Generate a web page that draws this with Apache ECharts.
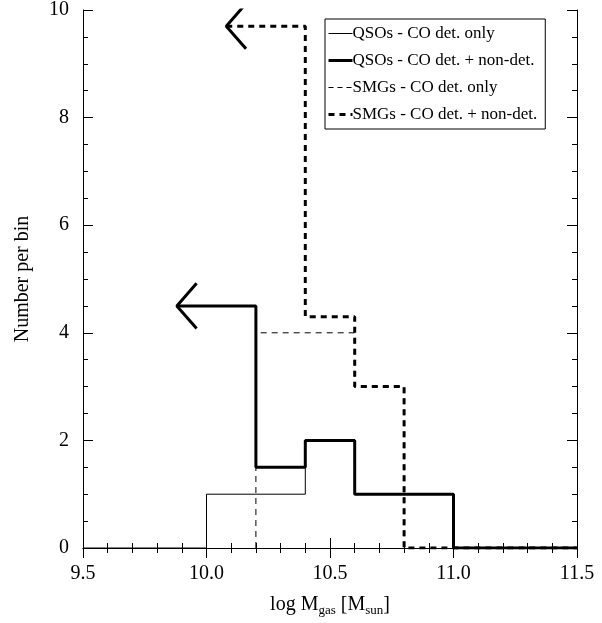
<!DOCTYPE html>
<html>
<head>
<meta charset="utf-8">
<script src="https://cdn.jsdelivr.net/npm/echarts@6/dist/echarts.min.js"></script>
<style>html,body{margin:0;background:#fff}#main{width:602px;height:623px}</style>
</head>
<body>
<div id="main"></div>
<script>
// bin edges and values of each histogram
let qsoDetEdges = [9.5, 10.0, 10.4, 10.6, 11.0, 11.5]
let qsoDetVals = [0, 1, 2, 1, 0]
let qsoAllEdges = [9.88, 10.2, 10.4, 10.6, 11.0, 11.5]
let qsoAllVals = [4.5, 1.5, 2, 1, 0]
let smgDetEdges = [10.2, 10.2, 10.6, 10.8, 10.8]
let smgDetVals = [0, 4, 3, 0]
let smgAllEdges = [10.08, 10.4, 10.6, 10.8, 11.5]
let smgAllVals = [9.7, 4.3, 3, 0]
// open arrow heads (upper-limit markers)
let qsoArrow = [[9.96, 4.92], [9.88, 4.5], [9.96, 4.08]]
let smgArrow = [[10.16, 10.12], [10.08, 9.7], [10.16, 9.28]]
let names = ['QSOs - CO det. only', 'QSOs - CO det. + non-det.', 'SMGs - CO det. only', 'SMGs - CO det. + non-det.']

function steps (edges, vals) {
    let out = []
    for (let i = 0; i < vals.length; i++) out.push([edges[i], vals[i]])
    out.push([edges[edges.length - 1], vals[vals.length - 1]])
    return out
}

let font = '"Liberation Serif", "DejaVu Serif", serif'
let myChart = echarts.init(document.getElementById('main'))
let axBase = {
    axisLine: {show: true, lineStyle: {color: '#000'}},
    splitLine: {show: false}, axisTick: {inside: true, length: 10, lineStyle: {color: '#000'}}
}
function line (name, data, width, dash) {
    return {
        name: name, type: 'line', step: 'end', data: data, symbol: 'none',
        lineStyle: {color: '#000', width: width, type: dash ? [6, 5] : 'solid'},
        itemStyle: {color: '#000'}
    }
}
let xMinor = {show: true, splitNumber: 5, length: 5, lineStyle: {color: '#000'}}
let yMinor = {show: true, splitNumber: 4, length: 5, lineStyle: {color: '#000'}}
myChart.setOption({
    animation: false,
    grid: {left: 83, right: 25, top: 10, bottom: 75},
    xAxis: [
        Object.assign({}, axBase, {type: 'value', min: 9.5, max: 11.5, interval: 0.5, minorTick: xMinor,
            axisLabel: {fontFamily: font, fontSize: 20, color: '#000', margin: 16,
                formatter: v => v.toFixed(1)},
            name: '{a|log M}{s|gas}{a| [M}{s|sun}{a|]}', nameLocation: 'middle', nameGap: 44,
            nameTextStyle: {rich: {
                a: {fontFamily: font, fontSize: 20, color: '#000'},
                s: {fontFamily: font, fontSize: 13, color: '#000', padding: [12, 0, 0, 0]}
            }}}),
        Object.assign({}, axBase, {type: 'value', position: 'top', min: 9.5, max: 11.5, interval: 0.5,
            minorTick: xMinor, axisLabel: {show: false}})
    ],
    yAxis: [
        Object.assign({}, axBase, {type: 'value', min: 0, max: 10, interval: 2, minorTick: yMinor,
            axisLabel: {fontFamily: font, fontSize: 20, color: '#000', margin: 14},
            name: 'Number per bin', nameLocation: 'middle', nameGap: 50,
            nameTextStyle: {fontFamily: font, fontSize: 20, color: '#000'}}),
        Object.assign({}, axBase, {type: 'value', position: 'right', min: 0, max: 10, interval: 2,
            minorTick: yMinor, axisLabel: {show: false}})
    ],
    legend: {
        data: [
            {name: names[0], lineStyle: {width: 1}},
            {name: names[1], lineStyle: {width: 3}},
            {name: names[2], lineStyle: {width: 1, type: [5, 4]}},
            {name: names[3], lineStyle: {width: 3, type: [6, 5]}}
        ],
        orient: 'vertical', left: 325, top: 19, itemWidth: 24, itemHeight: 10, itemGap: 10,
        itemStyle: {opacity: 0}, borderColor: '#000', borderWidth: 1, padding: [6, 8, 6, 2],
        textStyle: {fontFamily: font, fontSize: 17, color: '#000', padding: [0, 0, 0, -5]}
    },
    series: [
        line(names[0], steps(qsoDetEdges, qsoDetVals), 1, false),
        line(names[1], steps(qsoAllEdges, qsoAllVals), 3, false),
        line(names[2], steps(smgDetEdges, smgDetVals), 1, true),
        line(names[3], steps(smgAllEdges, smgAllVals), 3, true),
        {type: 'line', data: qsoArrow, symbol: 'none', lineStyle: {color: '#000', width: 3}},
        {type: 'line', data: smgArrow, symbol: 'none', lineStyle: {color: '#000', width: 3}}
    ]
})
</script>
</body>
</html>
